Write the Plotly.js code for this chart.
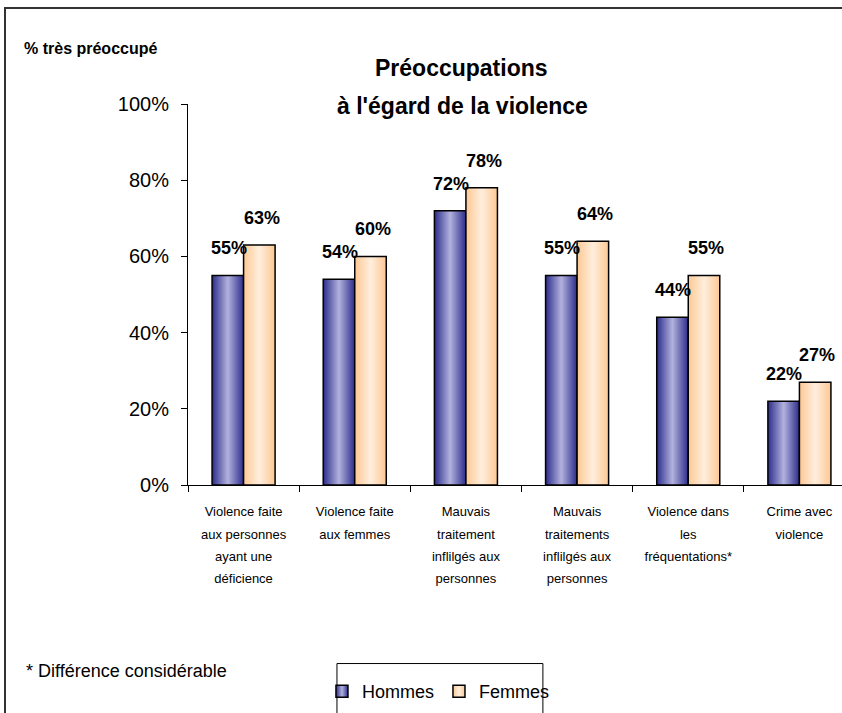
<!DOCTYPE html>
<html>
<head>
<meta charset="utf-8">
<script src="https://cdn.plot.ly/plotly-3.0.1.min.js"></script>
<style>
  html, body { margin: 0; padding: 0; background: #fff; overflow: hidden; width: 842px; height: 713px; }
  #frame { position: absolute; left: 4px; top: 7px; width: 1000px; height: 1000px; border-left: 2px solid #333; border-top: 2px solid #333; }
  #chart { position: absolute; left: 0; top: 0; }
</style>
</head>
<body>
<div id="frame"></div>
<svg width="0" height="0" style="position:absolute">
  <defs>
    <linearGradient id="gradH" x1="0" y1="0" x2="1" y2="0">
      <stop offset="0" stop-color="#2c2c8c"/>
      <stop offset="0.5" stop-color="#b2b2de"/>
      <stop offset="1" stop-color="#2c2c8c"/>
    </linearGradient>
    <linearGradient id="gradF" x1="0" y1="0" x2="1" y2="0">
      <stop offset="0" stop-color="#fdc894"/>
      <stop offset="0.5" stop-color="#ffeedd"/>
      <stop offset="1" stop-color="#fdc894"/>
    </linearGradient>
  </defs>
</svg>
<div id="chart"></div>
<script>
// ---- data ----
const categories = [
  "Violence faite<br>aux personnes<br>ayant une<br>déficience",
  "Violence faite<br>aux femmes",
  "Mauvais<br>traitement<br>inflilgés aux<br>personnes",
  "Mauvais<br>traitements<br>inflilgés aux<br>personnes",
  "Violence dans<br>les<br>fréquentations*",
  "Crime avec<br>violence"
];
const hommes = [55, 54, 72, 55, 44, 22];
const femmes = [63, 60, 78, 64, 55, 27];
const seriesNames = ["Hommes", "Femmes"];
const yTickVals = [0, 20, 40, 60, 80, 100];
const yTickText = ["0%", "20%", "40%", "60%", "80%", "100%"];
const titleLines = ["Préoccupations", "à l'égard de la violence"];
const yLabel = "% très préoccupé";
const footnote = "* Différence considérable";

const FONT = "Liberation Sans, Arial, sans-serif";
const tickText = categories.map(c => c.split("<br>").map(l => '<span style="font-size:13px">' + l + '</span>').join("<br>"));

const traces = [
  { type: "bar", name: seriesNames[0], x: categories, y: hommes,
    marker: { color: "#5a5aae", line: { color: "#000", width: 1.5 } }, hoverinfo: "skip" },
  { type: "bar", name: seriesNames[1], x: categories, y: femmes,
    marker: { color: "#fed5ac", line: { color: "#000", width: 1.5 } }, hoverinfo: "skip" }
];

const annotations = [];
categories.forEach((c, i) => {
  annotations.push({ x: c, y: hommes[i], xref: "x", yref: "y", text: "<b>" + hommes[i] + "%</b>",
    showarrow: false, xshift: -15, yshift: 27, yanchor: "middle", font: { family: FONT, size: 18, color: "#000" } });
  annotations.push({ x: c, y: femmes[i], xref: "x", yref: "y", text: "<b>" + femmes[i] + "%</b>",
    showarrow: false, xshift: 18, yshift: 27, yanchor: "middle", font: { family: FONT, size: 18, color: "#000" } });
});
// titles / texts (paper coords: plot x 188..855.2, y 104..486)
const px = X => (X - 188) / 667.2;
const py = Y => (486 - Y) / 382;
annotations.push({ xref: "paper", yref: "paper", x: px(462), y: py(68), text: "<b>" + titleLines[0] + "</b>",
  showarrow: false, xanchor: "center", yanchor: "middle", font: { family: FONT, size: 23, color: "#000" } });
annotations.push({ xref: "paper", yref: "paper", x: px(463), y: py(106), text: "<b>" + titleLines[1] + "</b>",
  showarrow: false, xanchor: "center", yanchor: "middle", font: { family: FONT, size: 23, color: "#000" } });
annotations.push({ xref: "paper", yref: "paper", x: px(22), y: py(48), text: "<b>" + yLabel + "</b>",
  showarrow: false, xanchor: "left", yanchor: "middle", font: { family: FONT, size: 16, color: "#000" } });
annotations.push({ xref: "paper", yref: "paper", x: px(24), y: py(672), text: footnote,
  showarrow: false, xanchor: "left", yanchor: "middle", font: { family: FONT, size: 18, color: "#000" } });

const layout = {
  width: 860, height: 713,
  margin: { l: 188, r: 4.8, t: 104, b: 227, pad: 0 },
  paper_bgcolor: "rgba(0,0,0,0)", plot_bgcolor: "rgba(0,0,0,0)",
  font: { family: FONT, color: "#000" },
  barmode: "group", bargap: 0.433, bargroupgap: 0,
  showlegend: true,
  legend: { orientation: "h", x: px(322), xanchor: "left", y: py(673), yanchor: "top",
    font: { family: FONT, size: 18, color: "#000" }, bgcolor: "rgba(0,0,0,0)", borderwidth: 0, itemwidth: 30 },
  xaxis: { type: "category", tickmode: "array", tickvals: categories, ticktext: tickText,
    tickfont: { family: FONT, size: 17, color: "#000" }, showline: true, linecolor: "#000", linewidth: 1,
    ticks: "outside", ticklen: 6, tickcolor: "#000", tickson: "boundaries", showgrid: false, zeroline: false,
    range: [-0.5, 5.5], fixedrange: true, ticklabelstandoff: 10 },
  yaxis: { range: [0, 100], tickmode: "array", tickvals: yTickVals, ticktext: yTickText,
    tickfont: { family: FONT, size: 20, color: "#000" }, showline: true, linecolor: "#000", linewidth: 1,
    ticks: "outside", ticklen: 6, tickcolor: "#000", showgrid: false, zeroline: false, fixedrange: true,
    ticklabelstandoff: 8 },
  shapes: [
    { type: "rect", xref: "paper", yref: "paper", x0: px(337), x1: px(543), y0: py(665), y1: py(730),
      line: { color: "#000", width: 1 }, fillcolor: "rgba(0,0,0,0)", layer: "below" }
  ],
  annotations: annotations
};

Plotly.newPlot("chart", traces, layout, { staticPlot: true, displayModeBar: false }).then(gd => {
  const barTraces = gd.querySelectorAll("g.trace.bars");
  barTraces.forEach((t, i) => {
    t.querySelectorAll("path").forEach(p => { p.style.fill = i === 0 ? "url(#gradH)" : "url(#gradF)"; });
  });
  const legPts = gd.querySelectorAll("g.legend g.traces");
  legPts.forEach((t, i) => {
    t.querySelectorAll("g.legendpoints path").forEach(p => { p.style.fill = i === 0 ? "url(#gradH)" : "url(#gradF)"; });
  });
});
</script>
</body>
</html>
